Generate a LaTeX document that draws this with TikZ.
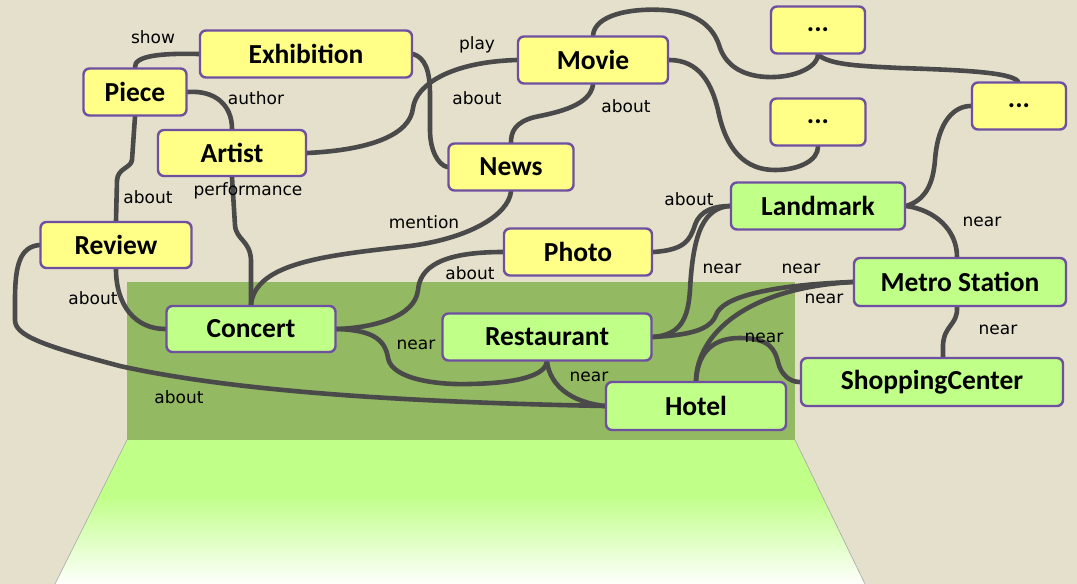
\documentclass[tikz,border=0pt]{standalone}
\usepackage{fontspec}
\newfontfamily\nodefont{Carlito}
\newfontfamily\lblfont{DejaVu Sans}
\definecolor{bgc}{HTML}{E4E0CB}
\definecolor{dgreen}{HTML}{94B963}
\definecolor{lgreen}{HTML}{C0FF88}
\definecolor{yel}{HTML}{FFFF88}
\definecolor{pur}{HTML}{6E4FA0}
\definecolor{edgec}{HTML}{4A4A4A}
\pgfdeclarelayer{back}
\pgfdeclarelayer{edges}
\pgfsetlayers{back,edges,main}
\tikzset{
  box/.style={draw=pur, line width=2.4pt, rounded corners=6pt, minimum height=47pt,
    inner sep=0pt, font=\nodefont\bfseries\fontsize{27.5}{27.5}\selectfont, text=black},
  ybox/.style={box, fill=yel},
  gbox/.style={box, fill=lgreen},
  lbl/.style={font=\lblfont\fontsize{17}{17}\selectfont, text=black, inner sep=0pt},
  link/.style={draw=edgec, line width=4.6pt, line cap=round}
}
\begin{document}
\begin{tikzpicture}[x=1pt,y=-1pt]
\begin{pgfonlayer}{back}
\fill[bgc] (0,0) rectangle (1077,584);
\useasboundingbox (0,0) rectangle (1077,584);
\fill[dgreen] (127,282) rectangle (795,440);
\begin{scope}
\clip (127,440) -- (795,440) -- (865,584) -- (55,584) -- cycle;
\fill[lgreen] (0,439) rectangle (1077,496);
\shade[top color=lgreen, bottom color=white] (0,495) rectangle (1077,586);
\end{scope}
\draw[black!35, line width=0.6pt] (127,440) -- (55,584) (795,440) -- (865,584);
\end{pgfonlayer}

% nodes
\node[ybox, minimum width=212pt] (exhibition) at (306,54) {Exhibition};
\node[ybox, minimum width=103pt] (piece) at (135,92) {Piece};
\node[ybox, minimum width=148pt, minimum height=46pt] (artist) at (232,153) {Artist};
\node[ybox, minimum width=151pt, minimum height=46pt] (review) at (116,245) {Review};
\node[ybox, minimum width=150pt] (movie) at (593,60) {Movie};
\node[ybox, minimum width=125pt] (news) at (511,167) {News};
\node[ybox, minimum width=148pt] (photo) at (578,252) {Photo};
\node[ybox, minimum width=94pt] (dotsa) at (818,30) {...};
\node[ybox, minimum width=95pt] (dotsb) at (818,122) {...};
\node[ybox, minimum width=94pt] (dotsc) at (1019,106) {...};
\node[gbox, minimum width=174pt] (landmark) at (818,206) {Landmark};
\node[gbox, minimum width=212pt, minimum height=48pt] (metro) at (960,282) {Metro Station};
\node[gbox, minimum width=262pt, minimum height=48pt] (shopping) at (932,382) {ShoppingCenter};
\node[gbox, minimum width=180pt, minimum height=48pt] (hotel) at (696,406) {Hotel};
\node[gbox, minimum width=209pt] (restaurant) at (547,337) {Restaurant};
\node[gbox, minimum width=169pt, minimum height=46pt] (concert) at (251,329) {Concert};

\begin{pgfonlayer}{edges}
\draw[link] (piece.north) .. controls (134,56) and (160,53) .. (exhibition.west);
\draw[link] (piece.east) .. controls (215,90) and (232,105) .. (artist.north);
\draw[link] (piece.south) -- (132,160) .. controls (131,168) and (118,168) .. (117,180) -- (review.north);
\draw[link] (artist.east) .. controls (370,150) and (410,135) .. (413,108) .. controls (416,85) and (450,62) .. (movie.west);
\draw[link] (exhibition.east) .. controls (425,58) and (430,70) .. (430,95) -- (430,130) .. controls (430,150) and (438,165) .. (news.west);
\draw[link] (movie.south) .. controls (590,105) and (560,112) .. (535,117) .. controls (515,122) and (511,132) .. (news.north);
\draw[link] (artist.south) -- (235,225) .. controls (236,240) and (250,240) .. (251,260) -- (concert.north);
\draw[link] (news.south) .. controls (508,215) and (470,238) .. (410,246) .. controls (330,255) and (255,262) .. (concert.north);
\draw[link] (photo.west) .. controls (440,252) and (420,268) .. (418,290) .. controls (415,318) and (370,328) .. (concert.east);
\draw[link] (concert.east) .. controls (370,330) and (385,338) .. (388,358) .. controls (392,380) and (440,385) .. (470,384) .. controls (520,383) and (545,375) .. (restaurant.south);
\draw[link] (review.south) .. controls (116,305) and (135,329) .. (concert.west);
\draw[link] (review.west) .. controls (20,247) and (15,265) .. (15,300) -- (15,320) .. controls (15,335) and (40,345) .. (120,366) .. controls (250,395) and (450,403) .. (hotel.west);
\draw[link] (restaurant.south) .. controls (550,385) and (570,402) .. (hotel.west);
\draw[link] (restaurant.east) .. controls (680,335) and (688,320) .. (690,290) .. controls (693,230) and (705,208) .. (landmark.west);
\draw[link] (photo.east) .. controls (685,250) and (690,240) .. (695,225) .. controls (700,210) and (715,206) .. (landmark.west);
\draw[link] (restaurant.east) .. controls (690,335) and (710,330) .. (716,315) .. controls (722,297) and (770,285) .. (metro.west);
\draw[link] (hotel.north) .. controls (697,335) and (745,288) .. (metro.west);
\draw[link] (hotel.north) .. controls (698,350) and (715,338) .. (740,338) .. controls (770,338) and (775,350) .. (778,362) .. controls (781,375) and (790,382) .. (shopping.west);
\draw[link] ([xshift=-3pt]metro.south) .. controls (958,325) and (944,325) .. (943,345) -- ([xshift=11pt]shopping.north);
\draw[link] (landmark.east) .. controls (935,210) and (957,230) .. ([xshift=-3pt]metro.north);
\draw[link] (landmark.east) .. controls (925,200) and (933,185) .. (935,160) .. controls (938,120) and (955,106) .. (dotsc.west);
\draw[link] (movie.east) .. controls (700,60) and (712,85) .. (718,110) .. controls (726,150) and (745,170) .. (775,170) .. controls (800,170) and (818,160) .. (dotsb.south);
\draw[link] (movie.north) .. controls (595,15) and (630,8) .. (663,10) .. controls (700,12) and (715,30) .. (720,48) .. controls (728,70) and (750,78) .. (775,77) .. controls (800,76) and (818,65) .. (dotsa.south);
\draw[link] (dotsa.south) .. controls (830,65) and (860,66) .. (900,68) .. controls (960,70) and (1010,72) .. ([xshift=-1pt]dotsc.north);
\end{pgfonlayer}

% labels
\node[lbl] (l1) at (153,37) {show};
\node[lbl] (l2) at (256,98) {author};
\node[lbl] (l3) at (477,45) {play};
\node[lbl] (l4) at (477,98) {about};
\node[lbl] (l5) at (626,106) {about};
\node[lbl] (l6) at (148,197) {about};
\node[lbl] (l7) at (248,191) {performance};
\node[lbl] (l8) at (424,222) {mention};
\node[lbl] (l9) at (689,199) {about};
\node[lbl] (l10) at (470,273) {about};
\node[lbl] (l11) at (982,222) {near};
\node[lbl] (l12) at (722,269) {near};
\node[lbl] (l13) at (801,269) {near};
\node[lbl] (l14) at (824,299) {near};
\node[lbl] (l15) at (998,330) {near};
\node[lbl] (l16) at (764,338) {near};
\node[lbl] (l17) at (589,377) {near};
\node[lbl] (l18) at (416,345) {near};
\node[lbl] (l19) at (93,298) {about};
\node[lbl] (l20) at (179,397) {about};
\end{tikzpicture}
\end{document}
